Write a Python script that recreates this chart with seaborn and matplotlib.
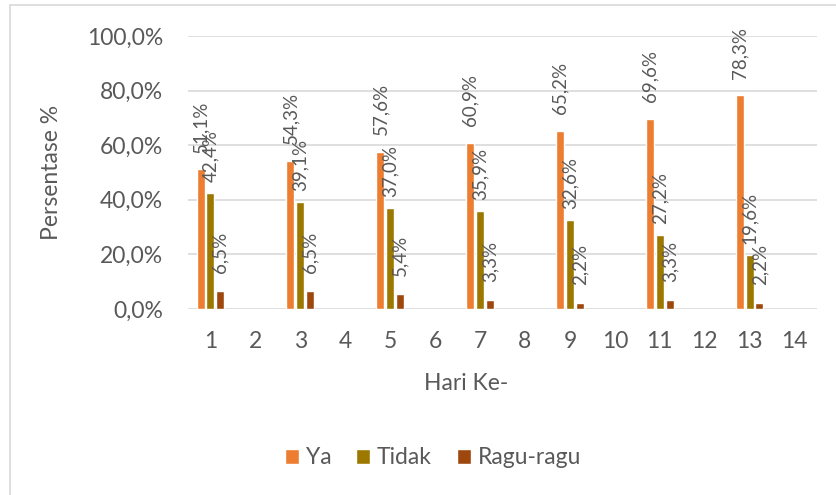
import pandas as pd
import matplotlib
import matplotlib.pyplot as plt
import seaborn as sns
from matplotlib.patches import Patch
from matplotlib.lines import Line2D

matplotlib.use('Agg')

# data
hari = [1, 3, 5, 7, 9, 11, 13]
ya = [51.1, 54.3, 57.6, 60.9, 65.2, 69.6, 78.3]
tidak = [42.4, 39.1, 37.0, 35.9, 32.6, 27.2, 19.6]
ragu = [6.5, 6.5, 5.4, 3.3, 2.2, 3.3, 2.2]
semua_hari = [str(h) for h in range(1, 15)]
seri = ["Ya", "Tidak", "Ragu-ragu"]
warna = ["#ED7D31", "#9C7800", "#9E480E"]

df = pd.DataFrame({"Hari": [str(h) for h in hari], "Ya": ya, "Tidak": tidak, "Ragu-ragu": ragu})
df = df.melt(id_vars="Hari", var_name="Jawaban", value_name="Persen")

sns.set_style("white")
plt.rcParams['font.family'] = ['Lato', 'DejaVu Sans']
abu = "#595959"
fs = 16.5

fig = plt.figure(figsize=(8.36, 4.95), dpi=100)
ax = fig.add_axes([188 / 836, 1 - 309 / 495, 629 / 836, 273 / 495])

sns.barplot(data=df, x="Hari", y="Persen", hue="Jawaban", order=semua_hari,
            hue_order=seri, palette=warna, width=0.66, gap=0.19, ax=ax,
            legend=False, saturation=1, errorbar=None)

# label nilai (berdiri vertikal seperti di Excel)
for c, pad in zip(ax.containers, [12, 8, 13]):
    ax.bar_label(c, labels=[f"{v:.1f}%".replace(".", ",") for v in c.datavalues],
                 rotation=90, padding=pad, fontsize=13.5, color=abu)

ax.set_ylim(0, 100)
ax.set_yticks(range(0, 101, 20))
ax.set_yticklabels([f"{v:.1f}%".replace(".", ",") for v in range(0, 101, 20)])
ax.yaxis.grid(True, color="#D9D9D9", linewidth=1.2)
ax.set_axisbelow(True)
for s in ax.spines.values():
    s.set_visible(False)
ax.tick_params(axis="y", length=0, pad=18, labelsize=fs, labelcolor=abu)
ax.tick_params(axis="x", length=0, pad=16, labelsize=fs, labelcolor=abu)

ax.set_ylabel("Persentase %", fontsize=fs, color=abu)
ax.yaxis.set_label_coords((62 - 188) / 629, 0.5)
ax.set_xlabel("Hari Ke-", fontsize=fs, color=abu)
ax.xaxis.set_label_coords((466 - 188) / 629, -(384 - 309) / 273)
ax.xaxis.label.set_va("center")

handles = [Patch(facecolor=w, label=s) for w, s in zip(warna, seri)]
fig.legend(handles=handles, loc="center", bbox_to_anchor=(433 / 836, 1 - 458 / 495),
           ncol=3, frameon=False, fontsize=fs, labelcolor=abu,
           handlelength=0.6, handleheight=0.6, handletextpad=0.3, columnspacing=1.1)

# bingkai chart
fig.add_artist(Line2D([10 / 836, 10 / 836], [0, 1 - 5 / 495], color="#D9D9D9", linewidth=1.2))
fig.add_artist(Line2D([10 / 836, 1], [1 - 5 / 495, 1 - 5 / 495], color="#D9D9D9", linewidth=1.2))

plt.savefig("out.png", dpi=100)
plt.close()
